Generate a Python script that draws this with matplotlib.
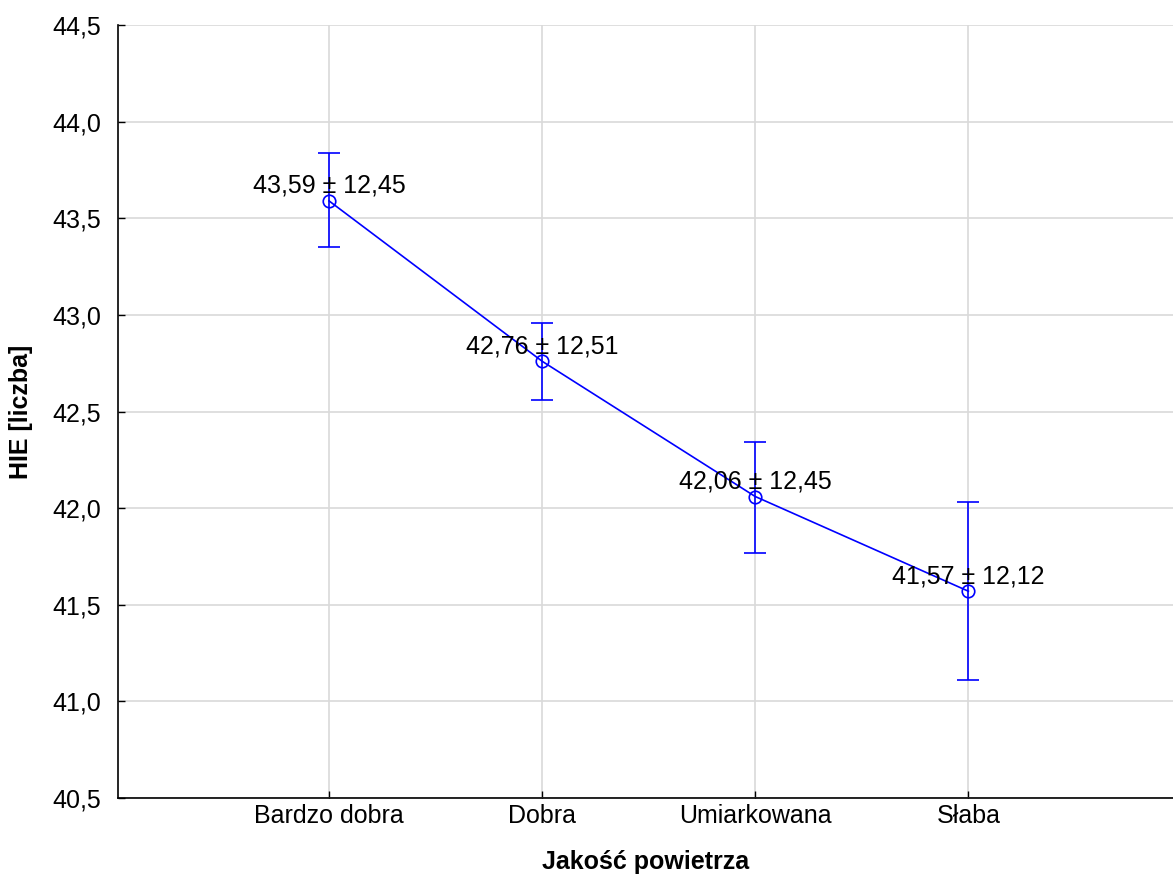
import numpy as np
import matplotlib.pyplot as plt

plt.rcParams['font.family'] = ['Liberation Sans', 'DejaVu Sans']

categories = ['Bardzo dobra', 'Dobra', 'Umiarkowana', 'Słaba']
means = [43.59, 42.76, 42.06, 41.57]
sds = [12.45, 12.51, 12.45, 12.12]
ci_low = [43.35, 42.56, 41.77, 41.11]
ci_high = [43.84, 42.96, 42.34, 42.03]

x = np.arange(len(categories))
means_a = np.array(means)
yerr = [means_a - np.array(ci_low), np.array(ci_high) - means_a]

fig = plt.figure(figsize=(11.73, 8.84), dpi=100)
ax = fig.add_axes([0.1006, 0.0973, 0.8994, 0.8744])

ax.errorbar(x, means, yerr=yerr, color='#0000ff', lw=1.2, marker='o', ms=9,
            mfc='none', mec='#0000ff', mew=1.2, capsize=8, capthick=1.2, zorder=3)

for xi, m, s in zip(x, means, sds):
    lab = ('%.2f ± %.2f' % (m, s)).replace('.', ',')
    ax.text(xi, m + 0.015, lab, ha='center', va='bottom', fontsize=18, zorder=4)

ax.set_xlim(-0.99, 3.96)
ax.set_ylim(40.5, 44.5)
ax.set_xticks(x)
ax.set_xticklabels(categories)
yt = np.arange(40.5, 44.51, 0.5)
ax.set_yticks(yt)
ax.set_yticklabels([('%.1f' % v).replace('.', ',') for v in yt])
ax.tick_params(direction='in', length=5, width=1, labelsize=18)
ax.tick_params(axis='y', pad=12)
ax.tick_params(axis='x', pad=4)
ax.grid(True, color='#d9d9d9', lw=1.2)
ax.set_axisbelow(True)
ax.spines['top'].set_visible(False)
ax.spines['right'].set_visible(False)
ax.spines['left'].set_linewidth(1.2)
ax.spines['bottom'].set_linewidth(1.2)

ax.set_xlabel('Jakość powietrza', fontsize=18, fontweight='bold', labelpad=16)
ax.set_ylabel('HIE [liczba]', fontsize=18, fontweight='bold', labelpad=14)

fig.savefig('out.png', dpi=100)
